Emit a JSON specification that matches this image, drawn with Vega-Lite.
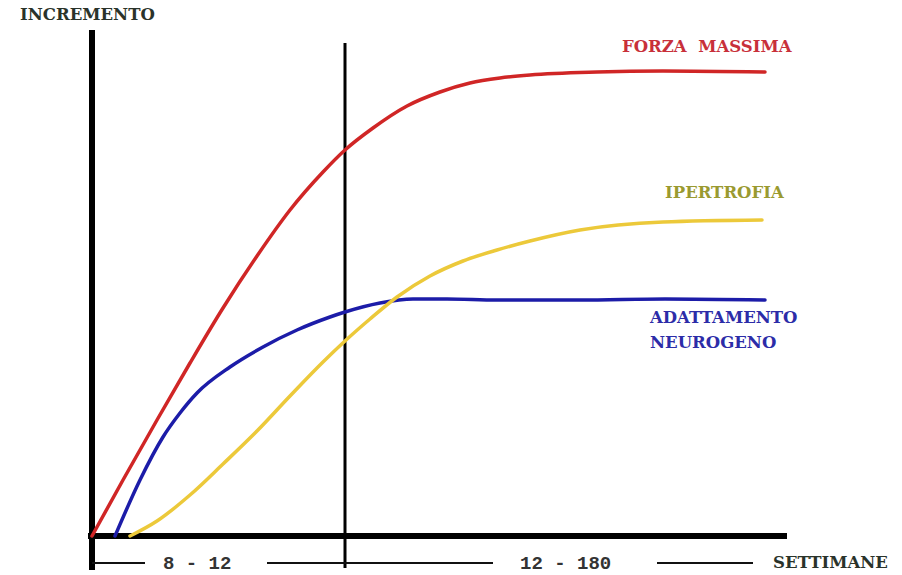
{
  "$schema": "https://vega.github.io/schema/vega-lite/v6.json",
  "width": 902,
  "height": 575,
  "autosize": {"type": "none"},
  "padding": 0,
  "background": "white",
  "config": {"view": {"stroke": null}},
  "datasets": {
    "curve": [
      {"serie": "Forza massima", "x": 0, "y": 0},
      {"serie": "Forza massima", "x": 31, "y": 56},
      {"serie": "Forza massima", "x": 65, "y": 116},
      {"serie": "Forza massima", "x": 98, "y": 173},
      {"serie": "Forza massima", "x": 131, "y": 228},
      {"serie": "Forza massima", "x": 165, "y": 280},
      {"serie": "Forza massima", "x": 198, "y": 326},
      {"serie": "Forza massima", "x": 231, "y": 364},
      {"serie": "Forza massima", "x": 253, "y": 386},
      {"serie": "Forza massima", "x": 281, "y": 408},
      {"serie": "Forza massima", "x": 315, "y": 430},
      {"serie": "Forza massima", "x": 348, "y": 444},
      {"serie": "Forza massima", "x": 378, "y": 453},
      {"serie": "Forza massima", "x": 408, "y": 458},
      {"serie": "Forza massima", "x": 438, "y": 461},
      {"serie": "Forza massima", "x": 505, "y": 464},
      {"serie": "Forza massima", "x": 571, "y": 465},
      {"serie": "Forza massima", "x": 673, "y": 464},
      {"serie": "Adattamento neurogeno", "x": 23, "y": 0},
      {"serie": "Adattamento neurogeno", "x": 48, "y": 56},
      {"serie": "Adattamento neurogeno", "x": 71, "y": 99},
      {"serie": "Adattamento neurogeno", "x": 88, "y": 123},
      {"serie": "Adattamento neurogeno", "x": 105, "y": 143},
      {"serie": "Adattamento neurogeno", "x": 138, "y": 169},
      {"serie": "Adattamento neurogeno", "x": 171, "y": 189},
      {"serie": "Adattamento neurogeno", "x": 205, "y": 206},
      {"serie": "Adattamento neurogeno", "x": 238, "y": 219},
      {"serie": "Adattamento neurogeno", "x": 253, "y": 224},
      {"serie": "Adattamento neurogeno", "x": 288, "y": 233},
      {"serie": "Adattamento neurogeno", "x": 321, "y": 237},
      {"serie": "Adattamento neurogeno", "x": 355, "y": 237},
      {"serie": "Adattamento neurogeno", "x": 405, "y": 236},
      {"serie": "Adattamento neurogeno", "x": 488, "y": 236},
      {"serie": "Adattamento neurogeno", "x": 573, "y": 237},
      {"serie": "Adattamento neurogeno", "x": 673, "y": 236},
      {"serie": "Ipertrofia", "x": 38, "y": 0},
      {"serie": "Ipertrofia", "x": 65, "y": 15},
      {"serie": "Ipertrofia", "x": 98, "y": 41},
      {"serie": "Ipertrofia", "x": 131, "y": 72},
      {"serie": "Ipertrofia", "x": 165, "y": 105},
      {"serie": "Ipertrofia", "x": 198, "y": 140},
      {"serie": "Ipertrofia", "x": 231, "y": 174},
      {"serie": "Ipertrofia", "x": 253, "y": 195},
      {"serie": "Ipertrofia", "x": 278, "y": 217},
      {"serie": "Ipertrofia", "x": 305, "y": 239},
      {"serie": "Ipertrofia", "x": 338, "y": 260},
      {"serie": "Ipertrofia", "x": 371, "y": 275},
      {"serie": "Ipertrofia", "x": 405, "y": 286},
      {"serie": "Ipertrofia", "x": 438, "y": 295},
      {"serie": "Ipertrofia", "x": 488, "y": 306},
      {"serie": "Ipertrofia", "x": 571, "y": 314},
      {"serie": "Ipertrofia", "x": 670, "y": 316}
    ],
    "linee": [
      {"tipo": "asse", "x": 0, "x2": 0, "y": -34, "y2": 506},
      {"tipo": "asse", "x": -4, "x2": 695, "y": 0, "y2": 0},
      {"tipo": "divisione", "x": 253, "x2": 253, "y": -32, "y2": 493},
      {"tipo": "segmento", "x": 0, "x2": 53, "y": -27, "y2": -27},
      {"tipo": "segmento", "x": 175, "x2": 401, "y": -27, "y2": -27},
      {"tipo": "segmento", "x": 565, "x2": 661, "y": -27, "y2": -27}
    ],
    "etichette": [
      {"gruppo": "nero", "testo": "INCREMENTO", "x": -72, "y": 521},
      {"gruppo": "nero", "testo": "SETTIMANE", "x": 681, "y": -27},
      {"gruppo": "rosso", "testo": "FORZA\u00a0\u00a0MASSIMA", "x": 530, "y": 489},
      {"gruppo": "giallo", "testo": "IPERTROFIA", "x": 573, "y": 343},
      {"gruppo": "blu", "testo": "ADATTAMENTO", "x": 558, "y": 218},
      {"gruppo": "blu", "testo": "NEUROGENO", "x": 558, "y": 193},
      {"gruppo": "periodo", "testo": "8 - 12", "x": 71, "y": -27},
      {"gruppo": "periodo", "testo": "12 - 180", "x": 428, "y": -27}
    ]
  },
  "layer": [
    {
      "data": {"name": "linee"},
      "transform": [{"filter": "datum.tipo === 'asse'"}],
      "mark": {"type": "rule", "color": "#000000", "strokeWidth": 6},
      "encoding": {
        "x": {"field": "x", "type": "quantitative", "scale": {"domain": [-92, 810], "nice": false, "zero": false}, "axis": null},
        "x2": {"field": "x2"},
        "y": {"field": "y", "type": "quantitative", "scale": {"domain": [-39, 536], "nice": false, "zero": false}, "axis": null},
        "y2": {"field": "y2"}
      }
    },
    {
      "data": {"name": "linee"},
      "transform": [{"filter": "datum.tipo === 'divisione'"}],
      "mark": {"type": "rule", "color": "#000000", "strokeWidth": 3},
      "encoding": {
        "x": {"field": "x", "type": "quantitative"},
        "x2": {"field": "x2"},
        "y": {"field": "y", "type": "quantitative"},
        "y2": {"field": "y2"}
      }
    },
    {
      "data": {"name": "linee"},
      "transform": [{"filter": "datum.tipo === 'segmento'"}],
      "mark": {"type": "rule", "color": "#111111", "strokeWidth": 2},
      "encoding": {
        "x": {"field": "x", "type": "quantitative"},
        "x2": {"field": "x2"},
        "y": {"field": "y", "type": "quantitative"},
        "y2": {"field": "y2"}
      }
    },
    {
      "data": {"name": "curve"},
      "mark": {"type": "line", "interpolate": "monotone", "strokeWidth": 3.5, "strokeCap": "round"},
      "encoding": {
        "x": {"field": "x", "type": "quantitative"},
        "y": {"field": "y", "type": "quantitative"},
        "color": {
          "field": "serie",
          "type": "nominal",
          "scale": {"domain": ["Forza massima", "Ipertrofia", "Adattamento neurogeno"], "range": ["#d02626", "#ecc93a", "#1c1ca8"]},
          "legend": null
        }
      }
    },
    {
      "data": {"name": "etichette"},
      "transform": [{"filter": "datum.gruppo === 'nero'"}],
      "mark": {"type": "text", "align": "left", "baseline": "middle", "font": "DejaVu Serif", "fontWeight": "bold", "fontSize": 16.5, "color": "#2a332a"},
      "encoding": {"x": {"field": "x", "type": "quantitative"}, "y": {"field": "y", "type": "quantitative"}, "text": {"field": "testo"}}
    },
    {
      "data": {"name": "etichette"},
      "transform": [{"filter": "datum.gruppo === 'rosso'"}],
      "mark": {"type": "text", "align": "left", "baseline": "middle", "font": "DejaVu Serif", "fontWeight": "bold", "fontSize": 16.5, "color": "#c8303a"},
      "encoding": {"x": {"field": "x", "type": "quantitative"}, "y": {"field": "y", "type": "quantitative"}, "text": {"field": "testo"}}
    },
    {
      "data": {"name": "etichette"},
      "transform": [{"filter": "datum.gruppo === 'giallo'"}],
      "mark": {"type": "text", "align": "left", "baseline": "middle", "font": "DejaVu Serif", "fontWeight": "bold", "fontSize": 16.5, "color": "#9a9a30"},
      "encoding": {"x": {"field": "x", "type": "quantitative"}, "y": {"field": "y", "type": "quantitative"}, "text": {"field": "testo"}}
    },
    {
      "data": {"name": "etichette"},
      "transform": [{"filter": "datum.gruppo === 'blu'"}],
      "mark": {"type": "text", "align": "left", "baseline": "middle", "font": "DejaVu Serif", "fontWeight": "bold", "fontSize": 16.5, "color": "#2c2ca8"},
      "encoding": {"x": {"field": "x", "type": "quantitative"}, "y": {"field": "y", "type": "quantitative"}, "text": {"field": "testo"}}
    },
    {
      "data": {"name": "etichette"},
      "transform": [{"filter": "datum.gruppo === 'periodo'"}],
      "mark": {"type": "text", "align": "left", "baseline": "middle", "font": "Liberation Mono", "fontWeight": "bold", "fontSize": 19, "color": "#333333"},
      "encoding": {"x": {"field": "x", "type": "quantitative"}, "y": {"field": "y", "type": "quantitative"}, "text": {"field": "testo"}}
    }
  ]
}
